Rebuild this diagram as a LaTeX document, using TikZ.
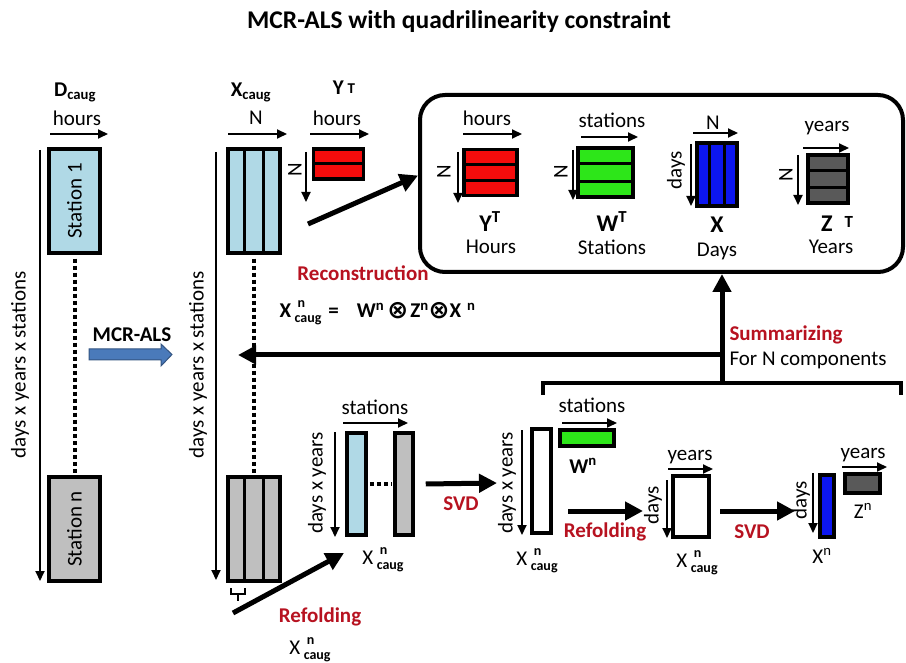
\documentclass[tikz,border=0pt]{standalone}
\usepackage{fontspec}
\setmainfont{Carlito}
\newfontfamily\symfont{DejaVu Sans}
\usepackage{tikz}
\usetikzlibrary{
    arrows.meta,
    calc
}

\definecolor{lblue}{RGB}{176,217,230}
\definecolor{lgray}{RGB}{191,191,191}
\definecolor{dgray}{RGB}{89,89,89}
\definecolor{mred}{RGB}{245,12,12}
\definecolor{mgreen}{RGB}{45,230,25}
\definecolor{mblue}{RGB}{12,22,240}
\definecolor{darkred}{RGB}{183,18,32}
\definecolor{mcrblue}{RGB}{74,122,186}

% X with n on top and caug below
\newcommand{\xcaug}{X\,\rlap{\raisebox{10pt}{\hspace{3pt}\fontsize{14}{14}\selectfont\bfseries n}}\raisebox{-5pt}{\fontsize{14}{14}\selectfont\bfseries caug}}
\newcommand{\kron}{\raisebox{-1pt}{\symfont\bfseries\fontsize{25}{25}\selectfont ⊗}}

\begin{document}
\begin{tikzpicture}[x=1pt,y=-1pt,>={Triangle[length=10pt,width=9pt]},
    every node/.style={font=\fontsize{21}{25}\selectfont}]
    \tikzstyle{mat}=[draw, line width=3.5pt, inner sep=0pt]
    \tikzstyle{sep}=[line width=3pt]
    \tikzstyle{axis}=[->, line width=2pt]
    \tikzstyle{flow}=[-{Triangle[length=18pt,width=18pt]}, line width=5pt]
    \tikzstyle{dots}=[line width=4pt, dash pattern=on 4pt off 3pt]
    \tikzstyle{redlbl}=[text=darkred, font=\fontsize{21}{25}\selectfont\bfseries]
    \tikzstyle{tight}=[inner sep=0pt]
    \tikzstyle{big}=[inner sep=0pt, font=\fontsize{24}{26}\selectfont\bfseries]

    \path[use as bounding box, fill=white] (0,0) rectangle (906,663);

    \node (title) at (459,22) {\fontsize{25.5}{30}\selectfont\bfseries MCR-ALS with quadrilinearity constraint};

    % augmented data matrix
    \node (dlab) at (75,92) {\bfseries D\textsubscript{caug}};
    \node (dh) at (77,118) {hours};
    \draw[axis] (50,134) -- (108,134);
    \node[mat, fill=lblue, minimum width=51, minimum height=104] (st1) at (74.5,201) {};
    \node[rotate=90] (st1t) at (st1) {Station 1};
    \node[mat, fill=lgray, minimum width=51, minimum height=104] (stn) at (74.5,529) {};
    \node[rotate=90] (stnt) at (stn) {Station n};
    \draw[dots, shorten <=4pt, shorten >=2pt] (st1.south) -- (stn.north);
    \draw[axis] (40,150) -- (40,581);
    \node[rotate=90] (dys1) at (20,365) {days x years x stations};

    \node (mcr) at (132,335) {\bfseries MCR-ALS};
    \filldraw[fill=mcrblue, draw=mcrblue!70!black, line width=1pt]
        (89,349) -- (161,349) -- (161,344) -- (172,354.5) -- (161,366) -- (161,360) -- (89,360) -- cycle;

    % scores of the augmented matrix
    \node (xlab) at (251,92) {\bfseries X\textsubscript{caug}};
    \node (xn) at (256,118) {N};
    \draw[axis] (228,134) -- (287,134);
    \node[mat, fill=lblue, minimum width=52, minimum height=104] (xc1) at (254,201) {};
    \node[mat, fill=lgray, minimum width=52, minimum height=104] (xcn) at (254,529) {};
    \foreach \m in {xc1,xcn}
        \foreach \f in {1,2}
            \draw[sep] ($(\m.north west)!\f/3!(\m.north east)$) -- ($(\m.south west)!\f/3!(\m.south east)$);
    \draw[dots, shorten <=4pt, shorten >=2pt] (xc1.south) -- (xcn.north);
    \draw[axis] (216,152) -- (216,580);
    \node[rotate=90] (dys2) at (198,365) {days x years x stations};
    \draw[line width=1.5pt] (231,588) -- (231,594) -- (245,594) -- (245,588) (238,594) -- (238,601);

    \node (ylab) at (344,88) {\bfseries Y\hspace{4pt}\raisebox{1pt}{\fontsize{15}{15}\selectfont T}};
    \node (yh) at (337,118) {hours};
    \draw[axis] (310,134) -- (369,134);
    \node[mat, fill=mred, minimum width=50, minimum height=30] (y0) at (338.5,164) {};
    \draw[sep] (y0.west) -- (y0.east);
    \draw[axis] (306,152) -- (306,202);
    \node[rotate=90] (yn) at (295,170) {N};

    % loadings box
    \node[draw, line width=4pt, rounded corners=25pt, minimum width=483, minimum height=177] (box) at (661.5,183.5) {};
    \coordinate (rc) at (308,224);
    \draw[flow] (rc) -- ([yshift=8pt]box.west);
    \node[redlbl] (recon) at (363,273) {Reconstruction};

    \node (bh) at (487,118) {hours};
    \draw[axis] (463,134) -- (522,134);
    \node[mat, fill=mred, minimum width=53, minimum height=46] (yt) at (490.5,172.5) {};
    \draw[axis] (458,152) -- (458,203);
    \node[rotate=90] (ytn) at (444,172) {N};
    \node[big] (ytl) at (490,222) {Y\textsuperscript{T}};
    \node[tight] (yth) at (491,247) {Hours};

    \node (bs) at (612,120) {stations};
    \draw[axis] (581,137) -- (638,137);
    \node[mat, fill=mgreen, minimum width=55, minimum height=49] (wt) at (605.5,172.5) {};
    \draw[axis] (573,150) -- (573,200);
    \node[rotate=90] (wtn) at (561,172) {N};
    \node[big] (wtl) at (612,222) {W\textsuperscript{T}};
    \node[tight] (wts) at (612,247) {Stations};

    \foreach \m in {yt,wt}
        \foreach \f in {1,2}
            \draw[sep] ($(\m.north west)!\f/3!(\m.south west)$) -- ($(\m.north east)!\f/3!(\m.south east)$);

    \node (bn) at (713,123) {N};
    \draw[axis] (693,133) -- (738,133);
    \node[mat, fill=mblue, minimum width=40, minimum height=63] (xt) at (717,174.5) {};
    \foreach \f in {1,2}
        \draw[sep] ($(xt.north west)!\f/3!(xt.north east)$) -- ($(xt.south west)!\f/3!(xt.south east)$);
    \draw[axis] (691,144) -- (691,206);
    \node[rotate=90] (xtd) at (676,170) {days};
    \node[big] (xtl) at (717,225) {X};
    \node[tight] (xtdl) at (717,251) {Days};

    \node (by) at (827,128) {years};
    \draw[axis] (803,148) -- (849,148);
    \node[mat, fill=dgray, minimum width=40, minimum height=48] (zt) at (828,179) {};
    \foreach \f in {1,2}
        \draw[sep] ($(zt.north west)!\f/3!(zt.south west)$) -- ($(zt.north east)!\f/3!(zt.south east)$);
    \draw[axis] (798,155) -- (798,205);
    \node[rotate=90] (ztn) at (786,175) {N};
    \node[big] (ztl) at (837,224) {Z\hspace{12pt}\raisebox{4pt}{\fontsize{17}{17}\selectfont T}};
    \node[tight] (zty) at (831,247) {Years};

    % summarizing
    \node[anchor=west] (eq) at (276,313) {\bfseries\xcaug\hspace{7pt}=\hspace{18pt}W\textsuperscript{n}\hspace{3pt}\kron\hspace{2pt}Z\textsuperscript{n}\kron X\hspace{6pt}\textsuperscript{n}};
    \coordinate (br) at (722,383);
    \coordinate (jn) at (722,355);
    \coordinate (lt) at (238,355);
    \draw[line width=4pt] (543,395) -- (543,383) -- (901,383) -- (901,395);
    \draw[flow] (br) -- (box.south -| br);
    \draw[flow] (jn) -- (lt);
    \node[redlbl, anchor=west] (summ) at (726,335) {Summarizing};
    \node[anchor=west] (forn) at (726,360) {For N components};

    % refolding of one component
    \node (ls) at (375,407) {stations};
    \draw[axis] (343,423) -- (408,423);
    \draw[axis] (335,432) -- (335,537);
    \node[rotate=90] (ldy) at (317,483) {days x years};
    \node[mat, fill=lblue, minimum width=19, minimum height=102] (b1) at (356.5,484) {};
    \node[mat, fill=lgray, minimum width=18, minimum height=102] (bm) at (404,484) {};
    \draw[dots, shorten <=2pt, shorten >=2pt] (b1.east) -- (bm.west);
    \node (lx1) at (383,560) {\xcaug};
    \coordinate (fk) at (233,613);
    \coordinate (fkend) at (344,553);
    \draw[flow] (fk) -- (fkend);
    \node[redlbl] (refold1) at (320,617) {Refolding};
    \node (lx0) at (310,650) {\xcaug};

    \coordinate (s1) at (497,483);
    \draw[flow] ([xshift=11pt]bm.east) -- (s1);
    \node[redlbl] (svd1) at (461,504) {SVD};

    \draw[axis] (522,430) -- (522,535);
    \node[rotate=90] (mdy) at (507,483) {days x years};
    \node[mat, fill=white, minimum width=19, minimum height=104] (u1) at (541.5,481) {};
    \node (ms) at (592,405) {stations};
    \draw[axis] (562,423) -- (617,423);
    \node[mat, fill=mgreen, minimum width=54, minimum height=16] (wn) at (587,438) {};
    \node (wnl) at (583,466) {\bfseries W\textsuperscript{n}};
    \node (mx) at (537,561) {\xcaug};

    \coordinate (r2a) at (568,511);
    \coordinate (r2b) at (643,511);
    \draw[flow] (r2a) -- (r2b);
    \node[redlbl] (refold2) at (605,532) {Refolding};

    \node (ry) at (690,457) {years};
    \draw[axis] (668,469) -- (713,469);
    \node[rotate=90] (rd) at (653,505) {days};
    \draw[axis] (667,480) -- (667,538);
    \node[mat, fill=white, minimum width=36, minimum height=61] (u2) at (691,506.5) {};
    \node (rx) at (697,563) {\xcaug};

    \coordinate (s2a) at (720,511);
    \coordinate (s2b) at (795,511);
    \draw[flow] (s2a) -- (s2b);
    \node[redlbl] (svd2) at (752,532) {SVD};

    \node[rotate=90] (fd) at (801,500) {days};
    \draw[axis] (813,473) -- (813,533);
    \node[mat, fill=mblue, minimum width=14, minimum height=62] (xnb) at (827,506) {};
    \node (xnl) at (822,556) {X\textsuperscript{n}};
    \node (fy) at (863,455) {years};
    \draw[axis] (842,467) -- (887,467);
    \node[mat, fill=dgray, minimum width=35, minimum height=19] (zn) at (862.5,483.5) {};
    \node (znl) at (863,511) {Z\textsuperscript{n}};
\end{tikzpicture}
\end{document}
